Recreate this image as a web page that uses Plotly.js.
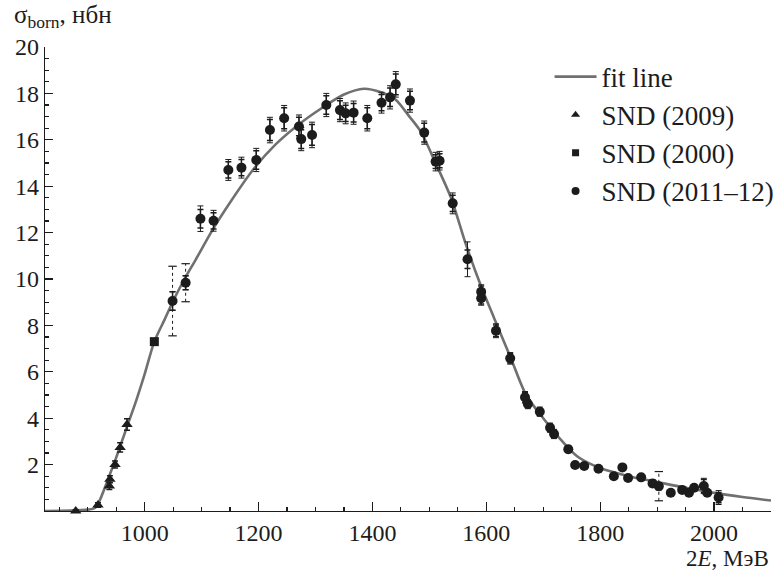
<!DOCTYPE html>
<html>
<head>
<meta charset="utf-8">
<script src="https://cdn.plot.ly/plotly-3.0.1.min.js"></script>
<style>html,body{margin:0;padding:0;background:#fff;}#chart{width:777px;height:576px;}</style>
</head>
<body>
<div id="chart"></div>
<script>
// Fit line
const fitX = [825, 870, 900, 912, 920, 930, 940, 950, 960, 970, 985, 1000, 1017, 1035, 1050, 1070, 1090, 1120, 1150, 1190, 1230, 1270, 1310, 1350, 1385, 1415, 1440, 1465, 1485, 1510, 1538, 1564, 1590, 1614, 1643, 1670, 1700, 1730, 1760, 1800, 1850, 1900, 1950, 2000, 2050, 2100];
const fitY = [0, 0.02, 0.06, 0.12, 0.4, 1.0, 1.65, 2.3, 3.0, 3.7, 4.75, 5.9, 7.3, 8.25, 9.05, 10.0, 10.85, 12.15, 13.3, 14.7, 15.8, 16.65, 17.35, 17.95, 18.2, 18.05, 17.75, 17.0, 16.35, 15.05, 13.5, 11.5, 9.74, 8.3, 6.6, 5.0, 4.0, 3.1, 2.35, 1.85, 1.5, 1.25, 1.0, 0.78, 0.6, 0.45];

// SND (2009)
const snd2009X = [879, 918, 938, 939, 948, 957, 969];
const snd2009Y = [0.0, 0.26, 1.08, 1.37, 2.0, 2.74, 3.73];
const snd2009E = [0.05, 0.1, 0.15, 0.15, 0.15, 0.2, 0.25];

// SND (2000)
const snd2000X = [1017];
const snd2000Y = [7.3];

// SND (2011-12)
const sndX = [1049, 1072, 1098, 1121, 1147, 1170, 1196, 1220, 1245, 1271, 1275, 1294, 1319, 1343, 1353, 1367, 1391, 1416, 1431, 1441, 1466, 1491, 1511, 1518, 1541, 1567, 1591, 1591, 1617, 1642, 1668, 1673, 1694, 1712, 1719, 1744, 1756, 1772, 1797, 1824, 1839, 1849, 1872, 1892, 1903, 1924, 1944, 1956, 1965, 1982, 1988, 2008];
const sndY = [9.05, 9.84, 12.6, 12.51, 14.7, 14.8, 15.13, 16.42, 16.93, 16.57, 16.03, 16.21, 17.5, 17.28, 17.14, 17.17, 16.93, 17.6, 17.83, 18.39, 17.69, 16.31, 15.06, 15.1, 13.26, 10.85, 9.45, 9.17, 7.77, 6.58, 4.9, 4.61, 4.28, 3.59, 3.32, 2.66, 1.98, 1.94, 1.82, 1.5, 1.88, 1.42, 1.45, 1.19, 1.07, 0.79, 0.91, 0.79, 1.0, 1.08, 0.79, 0.58];
const sndE = [0.4, 0.3, 0.4, 0.35, 0.35, 0.35, 0.4, 0.45, 0.45, 0.4, 0.4, 0.45, 0.4, 0.4, 0.35, 0.4, 0.45, 0.35, 0.4, 0.45, 0.4, 0.4, 0.3, 0.3, 0.35, 0.4, 0.25, 0.25, 0.25, 0.2, 0.2, 0.15, 0.15, 0.15, 0.15, 0.12, 0.1, 0.1, 0.1, 0.1, 0.1, 0.1, 0.1, 0.12, 0.15, 0.1, 0.1, 0.1, 0.1, 0.28, 0.1, 0.22];
const sndTot = [0.4, 0.3, 0.55, 0.45, 0.45, 0.45, 0.5, 0.55, 0.55, 0.5, 0.5, 0.55, 0.5, 0.5, 0.45, 0.5, 0.55, 0.45, 0.5, 0.55, 0.5, 0.5, 0.4, 0.4, 0.45, 0.75, 0.3, 0.3, 0.3, 0.25, 0.25, 0.2, 0.2, 0.2, 0.2, 0.15, 0.12, 0.12, 0.12, 0.12, 0.12, 0.12, 0.12, 0.15, 0.15, 0.12, 0.12, 0.12, 0.12, 0.33, 0.12, 0.3];
// points whose total error is drawn dashed
const dashIdx = [0, 1, 44];
const dashTot = [1.5, 0.82, 0.63];

const xTickVals = [1000, 1200, 1400, 1600, 1800, 2000];
const yTickVals = [2, 4, 6, 8, 10, 12, 14, 16, 18, 20];

const black = '#1c1c1c';
const serif = 'Liberation Serif, Times New Roman, serif';

const dx = [], dy = [], capX = [], capY = [];
dashIdx.forEach((i, k) => {
  dx.push(sndX[i], sndX[i], null);
  dy.push(sndY[i] - dashTot[k], sndY[i] + dashTot[k], null);
  capX.push(sndX[i], sndX[i]);
  capY.push(sndY[i] - dashTot[k], sndY[i] + dashTot[k]);
});

const traces = [
  {x: fitX, y: fitY, mode: 'lines', name: 'fit line', line: {color: '#707070', width: 2.6, shape: 'spline', smoothing: 0.8}, legendgroup: 'a'},
  {x: dx, y: dy, mode: 'lines', line: {color: black, width: 1, dash: '3px,3px'}, showlegend: false, hoverinfo: 'skip'},
  {x: capX, y: capY, mode: 'markers', marker: {symbol: 'line-ew', size: 6, line: {color: black, width: 1.2}}, showlegend: false, hoverinfo: 'skip'},
  {x: sndX, y: sndY, mode: 'markers', marker: {size: 0.1, color: 'rgba(0,0,0,0)'}, showlegend: false, hoverinfo: 'skip',
   error_y: {type: 'data', array: sndTot, visible: true, color: black, thickness: 1, width: 3}},
  {x: snd2009X, y: snd2009Y, mode: 'markers', name: 'SND (2009)', showlegend: false, cliponaxis: false,
   marker: {symbol: 'triangle-up', size: 10, color: black},
   error_y: {type: 'data', array: snd2009E, visible: true, color: black, thickness: 1.5, width: 3}},
  {x: snd2000X, y: snd2000Y, mode: 'markers', name: 'SND (2000)', showlegend: false,
   marker: {symbol: 'square', size: 9, color: black}},
  {x: sndX, y: sndY, mode: 'markers', name: 'SND (2011\u201312)', showlegend: false,
   marker: {symbol: 'circle', size: 10, color: black},
   error_y: {type: 'data', array: sndE, visible: true, color: black, thickness: 1.5, width: 3}},
  // legend entries (smaller symbols, as in the reference legend)
  {x: [null], y: [null], mode: 'markers', name: 'SND (2009)', legendgroup: 'b', marker: {symbol: 'triangle-up', size: 8, color: black}},
  {x: [null], y: [null], mode: 'markers', name: 'SND (2000)', legendgroup: 'c', marker: {symbol: 'square', size: 7, color: black}},
  {x: [null], y: [null], mode: 'markers', name: 'SND (2011\u201312)', legendgroup: 'd', marker: {symbol: 'circle', size: 8, color: black}}
];

const axisCommon = {
  showgrid: false, zeroline: false, showline: true, linecolor: black, linewidth: 1.3,
  ticks: 'inside', tickcolor: black, tickwidth: 1.3,
  tickfont: {family: serif, size: 24, color: black}
};

const layout = {
  width: 777, height: 576,
  margin: {l: 45, r: 6, t: 47, b: 65, autoexpand: false},
  paper_bgcolor: '#fff', plot_bgcolor: '#fff',
  showlegend: true,
  legend: {x: 0.695, xanchor: 'left', y: 0.988, yanchor: 'top', font: {family: serif, size: 27, color: black},
           bgcolor: 'rgba(0,0,0,0)', itemwidth: 42, tracegroupgap: 0, traceorder: 'grouped'},
  xaxis: Object.assign({}, axisCommon, {range: [825, 2100], tickmode: 'array', tickvals: xTickVals, ticklen: 9, automargin: false,
    minor: {dtick: 50, tick0: 0, ticks: 'inside', ticklen: 4, tickcolor: black, tickwidth: 1.2}}),
  yaxis: Object.assign({}, axisCommon, {range: [0, 20], tickmode: 'array', tickvals: yTickVals, ticklen: 8, automargin: false,
    minor: {dtick: 0.5, tick0: 0, ticks: 'inside', ticklen: 4, tickcolor: black, tickwidth: 1.2}}),
  annotations: [
    {xref: 'paper', yref: 'paper', x: -0.046, y: 1.065, xanchor: 'left', yanchor: 'middle', showarrow: false,
     text: '\u03c3<sub>born</sub>, \u043d\u0431\u043d', font: {family: serif, size: 25, color: black}},
    {xref: 'paper', yref: 'paper', x: 1.0, y: -0.102, xanchor: 'right', yanchor: 'middle', showarrow: false,
     text: '2<i>E</i>, \u041c\u044d\u0412', font: {family: serif, size: 23, color: black}}
  ]
};

Plotly.newPlot('chart', traces, layout, {displayModeBar: false, staticPlot: true});
</script>
</body>
</html>
